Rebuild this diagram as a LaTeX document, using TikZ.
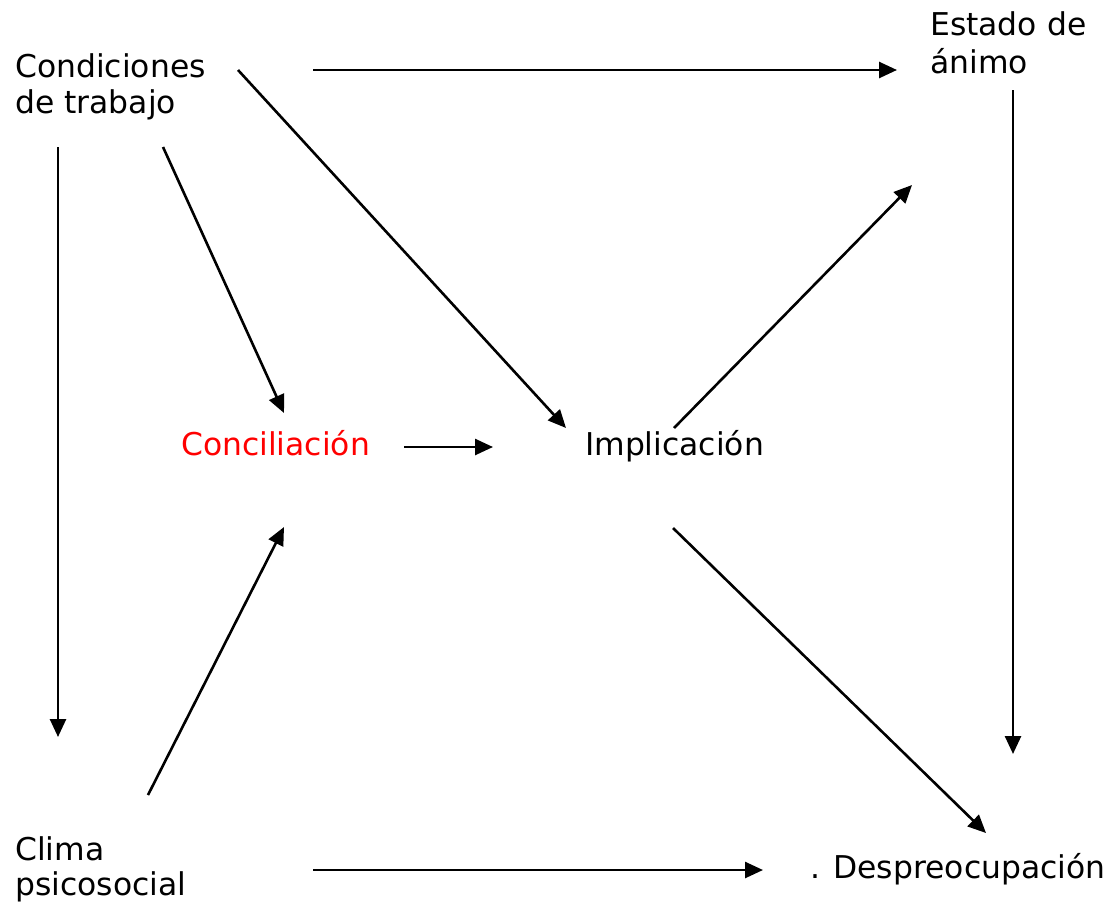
\documentclass[tikz,border=0pt]{standalone}
\usepackage{fontspec}
\setmainfont{DejaVu Sans}
\usetikzlibrary{arrows.meta}
\begin{document}
\begin{tikzpicture}[x=1pt,y=-1pt,
  lbl/.style={anchor=base west,inner sep=0pt,align=left,font=\fontsize{31.4}{38}\selectfont},
  arr/.style={line width=2.6pt,-{Triangle[length=18pt,width=16pt]}}]
\useasboundingbox[fill=white] (0,0) rectangle (1107,905);
\node[lbl] (ct1) at (15,77) {Condiciones};
\node[lbl] (ct2) at (15,113) {de trabajo};
\node[lbl] (ea1) at (930,35) {Estado de};
\node[lbl] (ea2) at (930,73) {ánimo};
\node[lbl,text=red] (con) at (181,455) {Conciliación};
\node[lbl] (imp) at (585,455) {Implicación};
\node[lbl] (cl1) at (15,860) {Clima};
\node[lbl] (cl2) at (15,895) {psicosocial};
\node[lbl] (des) at (810,878) {. Despreocupación};
% connector end points
\coordinate (a1s) at (313,70);  \coordinate (a1e) at (897,70);
\coordinate (a2s) at (238,70);  \coordinate (a2e) at (566,428);
\coordinate (a3s) at (163,147); \coordinate (a3e) at (284,413);
\coordinate (a4s) at (58,147);  \coordinate (a4e) at (58,737);
\coordinate (a5s) at (404,447); \coordinate (a5e) at (493,447);
\coordinate (a6s) at (674,428); \coordinate (a6e) at (912,185);
\coordinate (a7s) at (1013,90); \coordinate (a7e) at (1013,754);
\coordinate (a8s) at (673,528); \coordinate (a8e) at (986,833);
\coordinate (a9s) at (148,795); \coordinate (a9e) at (284,527);
\coordinate (a10s) at (313,870); \coordinate (a10e) at (763,870);
\draw[arr] (a1s) -- (a1e);
\draw[arr] (a2s) -- (a2e);
\draw[arr] (a3s) -- (a3e);
\draw[arr] (a4s) -- (a4e);
\draw[arr] (a5s) -- (a5e);
\draw[arr] (a6s) -- (a6e);
\draw[arr] (a7s) -- (a7e);
\draw[arr] (a8s) -- (a8e);
\draw[arr] (a9s) -- (a9e);
\draw[arr] (a10s) -- (a10e);
\end{tikzpicture}
\end{document}
